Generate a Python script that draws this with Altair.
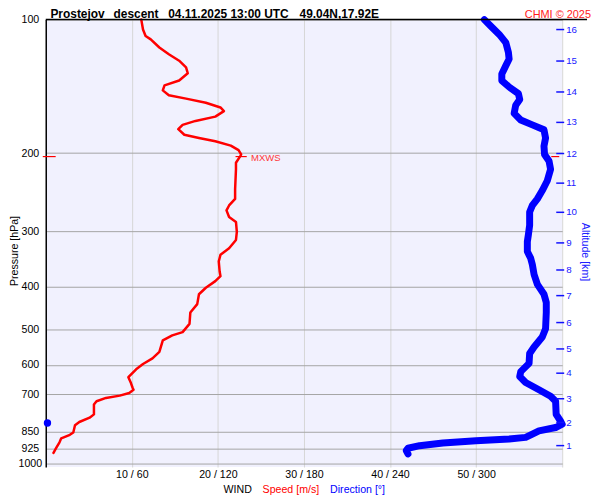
import altair as alt
import pandas as pd

# ---------------- data ----------------
speed_pressure = [100, 105.3, 108.9, 110.8, 115.6, 119.7, 123.8, 128.1, 132.1, 137.2,
                  140.7, 144.4, 148.1, 150.7, 154.0, 157.8, 160.8, 165.5, 169.2, 172.7,
                  176.6, 181.8, 184.9, 188.1, 192.3, 196.9, 201.4, 203.1, 210.2, 217.5,
                  241.0, 253.6, 262.4, 269.2, 278.6, 285.8, 300.8, 313.9, 327.7, 339.0,
                  350.8, 369.2, 378.8, 388.6, 402.2, 416.0, 437.9, 457.2, 485.1, 506.5,
                  515.1, 528.5, 561.1, 580.4, 597.6, 614.1, 639.8, 659.8, 676.9, 682.8,
                  694.4, 704.1, 712.5, 725.0, 737.4, 776.1, 789.4, 807.4, 821.1, 852.4,
                  862.9, 879.0, 897.2, 925.2, 947.8]
speed_ms = [11.1, 11.3, 11.6, 12.2, 13.2, 14.3, 15.5, 16.3, 16.5, 15.5,
            13.8, 13.6, 14.3, 16.3, 18.6, 20.3, 20.7, 19.7, 17.4, 15.9,
            15.4, 16.1, 17.8, 19.7, 21.5, 22.4, 22.7, 22.6, 22.1, 22.1,
            22.0, 22.0, 21.3, 21.0, 21.3, 22.1, 22.2, 22.1, 21.3, 20.3,
            20.1, 20.2, 20.3, 19.7, 18.6, 17.8, 17.6, 16.8, 16.7, 15.9,
            14.7, 13.6, 13.2, 12.4, 11.3, 10.5, 9.6, 9.9, 10.1, 10.2,
            9.7, 8.6, 7.0, 5.9, 5.6, 5.6, 5.1, 3.9, 3.4, 3.2,
            2.8, 1.8, 1.6, 1.2, 0.9]

dir_pressure = [100, 103.5, 108.0, 112.7, 118.6, 122.7, 127.0, 132.6, 137.2, 141.9,
                146.9, 151.4, 155.9, 162.7, 168.4, 172.7, 177.2, 184.9, 192.9, 201.4,
                208.3, 217.5, 230.8, 242.9, 253.6, 262.4, 271.5, 290.7, 305.9, 316.6,
                333.3, 344.9, 356.8, 375.5, 395.3, 416.0, 434.3, 457.2, 497.7, 519.6,
                546.9, 565.7, 595.5, 621.7, 637.8, 657.7, 682.8, 706.6, 725.0, 776.1,
                803.2, 816.9, 830.9, 845.4, 859.7, 874.5, 882.1, 889.9, 900.4, 913.0,
                925.2, 936.7, 952.6]
direction_deg = [305.7, 310.3, 316.1, 320.7, 322.5, 323.0, 320.7, 317.9, 317.9, 323.0,
                 329.5, 330.4, 327.6, 326.5, 331.1, 339.2, 347.3, 348.4, 347.3, 347.7,
                 350.8, 351.9, 349.6, 346.1, 342.7, 339.2, 337.3, 337.3, 336.4, 335.7,
                 335.7, 338.0, 339.2, 340.4, 342.7, 347.3, 348.9, 348.9, 348.4, 346.1,
                 340.4, 337.3, 336.9, 331.1, 330.4, 334.5, 343.8, 351.9, 355.4, 355.8,
                 358.8, 360.0, 355.4, 343.8, 339.2, 334.5, 323.0, 299.9, 276.8, 260.6,
                 252.5, 251.3, 252.5]

wrap_pressure = [811.5]
wrap_direction = [1.2]

altitude_km = [1, 2, 3, 4, 5, 6, 7, 8, 9, 10, 11, 12, 13, 14, 15, 16]
altitude_pressure = [912.7, 809.6, 715.6, 626.7, 552.6, 481.9, 419.0, 366.8,
                     318.7, 271.9, 233.7, 200.4, 170.5, 145.6, 124.0, 105.3]

pressure_ticks = [100, 200, 300, 400, 500, 600, 700, 850, 925, 1000]
speed_ticks = [10, 20, 30, 40, 50, 60]

mxws_pressure = [203.6]
mxws_speed = [22.7]

# ---------------- layout / style ----------------
W, H = 520, 450.5
FONT = "Liberation Sans"
RED = "#ff0000"
BLUE = "#0000ff"

yscale = alt.Scale(type="log", domain=[100, 1020], reverse=True, nice=False)
xscale = alt.Scale(domain=[0, 60], nice=False, zero=False)

AX_X = alt.Axis(
    values=speed_ticks,
    labelExpr="datum.value >= 60 ? '' : datum.value + ' / ' + datum.value * 6",
    grid=True, gridColor="#d6d6d6", gridWidth=1,
    domain=False, ticks=False, tickSize=0, labelPadding=3,
    labelFontSize=10.7, labelColor="#000", labelFont=FONT, title=None)
AX_Y = alt.Axis(
    values=pressure_ticks, format="d",
    grid=True, gridColor="#a4a4a4", gridWidth=1,
    domain=True, domainColor="#000", domainWidth=1.5,
    ticks=False, tickSize=0, labelAlign="center", labelBaseline="middle",
    labelPadding=16, labelFontSize=10.7, labelColor="#000", labelFont=FONT,
    title=None)


def X(field):
    return alt.X(field, scale=xscale, axis=AX_X)


def Y(field):
    return alt.Y(field, scale=yscale, axis=AX_Y)


speed_df = pd.DataFrame({"p": speed_pressure, "s": speed_ms, "i": range(len(speed_ms))})
dir_df = pd.DataFrame({"p": dir_pressure, "d": direction_deg, "i": range(len(direction_deg))})
wrap_df = pd.DataFrame({"p": wrap_pressure, "d": wrap_direction})
alt_df = pd.DataFrame({"p": altitude_pressure, "km": [str(k) for k in altitude_km]})
mx_df = pd.DataFrame({"p": mxws_pressure, "s": mxws_speed})

speed_line = alt.Chart(speed_df).mark_line(
    color=RED, strokeWidth=2.5, strokeJoin="round", strokeCap="round"
).encode(x=X("s:Q"), y=Y("p:Q"), order="i:Q")

dir_line = alt.Chart(dir_df).transform_calculate(xs="datum.d / 6").mark_line(
    color=BLUE, strokeWidth=7, strokeJoin="round", strokeCap="round"
).encode(x=X("xs:Q"), y=Y("p:Q"), order="i:Q")

wrap_dot = alt.Chart(wrap_df).transform_calculate(xs="datum.d / 6").mark_circle(
    color=BLUE, opacity=1, size=55
).encode(x=X("xs:Q"), y=Y("p:Q"))

# altitude axis on the right (ticks + labels)
alt_ticks = alt.Chart(alt_df).mark_rule(color="#1010ff", strokeWidth=1.5).encode(
    x=alt.value(514), x2=alt.value(522), y=Y("p:Q"))
alt_labels = alt.Chart(alt_df).mark_text(
    align="left", baseline="middle", fontSize=9.8, color="#2020ff", font=FONT
).encode(x=alt.value(524), y=Y("p:Q"), text="km:N")

# max wind markers
mx_rule = alt.Chart(mx_df).transform_calculate(
    a="datum.s - 0.65", b="datum.s + 0.65").mark_rule(color=RED, strokeWidth=1.2).encode(
    x=X("a:Q"), x2="b:Q", y=Y("p:Q"))
mx_left = alt.Chart(mx_df).mark_rule(color=RED, strokeWidth=1.2).encode(
    x=alt.value(-3), x2=alt.value(10), y=Y("p:Q"))
mx_right = alt.Chart(mx_df).mark_rule(color=RED, strokeWidth=1.2).encode(
    x=alt.value(509), x2=alt.value(517), y=Y("p:Q"))
mx_text = alt.Chart(mx_df).transform_calculate(t="'MXWS'").mark_text(
    align="left", baseline="middle", dx=10, dy=1, fontSize=9.6, color="#ff3838", font=FONT
).encode(x=X("s:Q"), y=Y("p:Q"), text="t:N")

# top line
top_line = alt.Chart(pd.DataFrame({"k": [0]})).mark_rule(color="#000", strokeWidth=1.5).encode(
    x=alt.value(0), x2=alt.value(545), y=alt.value(0))


def label(txt, x, y, **kw):
    style = dict(font=FONT, fontSize=10.7, color="#000", align="left", baseline="alphabetic")
    style.update(kw)
    return alt.Chart(pd.DataFrame({"t": [txt]})).mark_text(**style).encode(
        x=alt.value(x), y=alt.value(y), text="t:N")


TY = -1.5
texts = [
    label("Prostejov", 4.7, TY, fontWeight="bold", fontSize=12),
    label("descent", 68.3, TY, fontWeight="bold", fontSize=12),
    label("04.11.2025 13:00 UTC", 123.3, TY, fontWeight="bold", fontSize=12),
    label("49.04N,17.92E", 255.5, TY, fontWeight="bold", fontSize=12),
    label("CHMI \u00a9 2025", 549, TY, align="right", color="#ff1a1a", fontSize=11),
    label("WIND", 179, 477),
    label("Speed [m/s]", 218.3, 477, color=RED),
    label("Direction [\u00b0]", 286.3, 477, color=BLUE),
    label("Pressure [hPa]", -31, 233, angle=270, align="center", baseline="middle"),
    label("Altitude [km]", 543, 234, angle=90, align="center", baseline="middle", color="#2020ff"),
]

chart = alt.layer(
    speed_line, dir_line, wrap_dot, alt_ticks, alt_labels,
    mx_rule, mx_left, mx_right, mx_text, top_line, *texts
).properties(
    width=W, height=H,
    autosize=alt.AutoSizeParams(type="none"),
    padding={"left": 38, "top": 10, "right": 30, "bottom": 28},
).configure(
    font=FONT, background="#ffffff"
).configure_view(
    fill="#f1f1fe", stroke=None
)

chart.save("out.html", embed_options={"renderer": "svg", "actions": False})
